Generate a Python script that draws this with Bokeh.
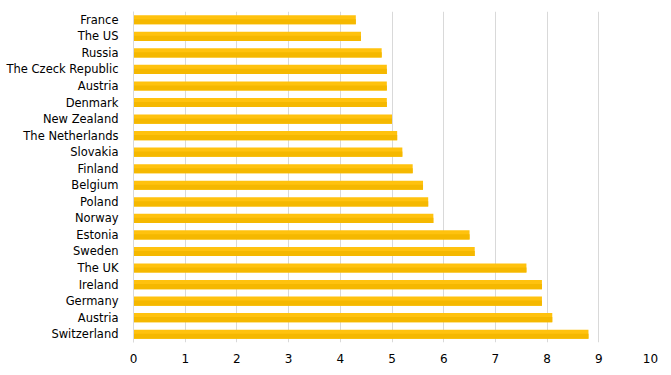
from bokeh.plotting import figure
from bokeh.models import Range1d, FixedTicker, ColumnDataSource
from bokeh.embed import file_html
from bokeh.resources import INLINE

countries = ["France", "The US", "Russia", "The Czeck Republic", "Austria", "Denmark",
             "New Zealand", "The Netherlands", "Slovakia", "Finland", "Belgium", "Poland",
             "Norway", "Estonia", "Sweden", "The UK", "Ireland", "Germany", "Austria",
             "Switzerland"]
values = [4.3, 4.4, 4.8, 4.9, 4.9, 4.9, 5.0, 5.1, 5.2, 5.4, 5.6, 5.7, 5.8, 6.5, 6.6,
          7.6, 7.9, 7.9, 8.1, 8.8]
x_ticks = [0, 1, 2, 3, 4, 5, 6, 7, 8, 9, 10]

pos = list(range(len(countries)))
src = ColumnDataSource(dict(y=pos, v=values, y_low=[i + 0.12 for i in pos]))

p = figure(width=662, height=366, output_backend="svg", toolbar_location=None,
           x_range=Range1d(0, 10), y_range=Range1d(len(countries) - 0.5, -0.5),
           frame_width=517, frame_height=331,
           min_border_left=133, min_border_top=11, min_border_right=10, min_border_bottom=5)
p.outline_line_color = None
p.background_fill_color = "white"

p.hbar(y="y", right="v", left=0, height=0.55, source=src,
       fill_color="#FFC20E", line_color=None)
p.hbar(y="y_low", right="v", left=0, height=0.31, source=src,
       fill_color="#F5B800", line_color=None)

# x axis
p.xaxis.ticker = FixedTicker(ticks=x_ticks)
p.xaxis.axis_line_color = None
p.xaxis.major_tick_line_color = None
p.xaxis.minor_tick_line_color = None
p.xaxis.major_label_text_font = "DejaVu Sans"
p.xaxis.major_label_text_font_size = "12px"
p.xaxis.major_label_text_color = "#000000"
p.xaxis.major_label_standoff = 5

# y axis
p.yaxis.ticker = FixedTicker(ticks=pos)
p.yaxis.major_label_overrides = {i: c for i, c in zip(pos, countries)}
p.yaxis.axis_line_color = "#d9d9d9"
p.yaxis.major_tick_line_color = None
p.yaxis.minor_tick_line_color = None
p.yaxis.major_label_text_font = "DejaVu Sans"
p.yaxis.major_label_text_font_size = "11.5px"
p.yaxis.major_label_text_color = "#000000"
p.yaxis.major_label_standoff = 9

p.xgrid.grid_line_color = "#d9d9d9"
p.ygrid.grid_line_color = None

open("out.html", "w").write(file_html(p, INLINE))
